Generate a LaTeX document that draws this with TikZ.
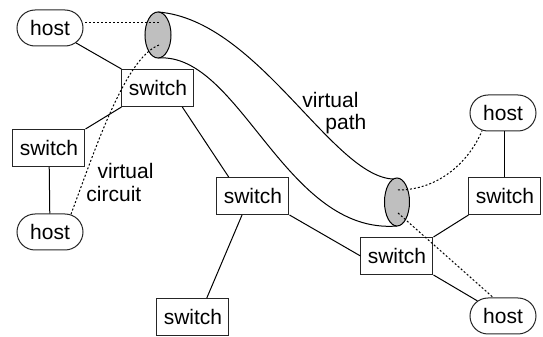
\documentclass[tikz,border=0pt]{standalone}
\usepackage{fontspec}
\setmainfont{Liberation Sans}
\usetikzlibrary{shapes.misc}
\begin{document}
\begin{tikzpicture}[x=0.5pt,y=-0.5pt,line width=0.5pt,
  font=\fontsize{10.5}{12.6}\selectfont,
  switch/.style={draw=black!85,rectangle,minimum width=36pt,minimum height=18.5pt,inner sep=1pt},
  host/.style={draw=black!85,rounded rectangle,minimum width=35pt,minimum height=18pt,inner sep=1pt},
  vc/.style={dash pattern=on 1pt off 1pt,line width=0.5pt},
  label/.style={inner sep=0pt,anchor=west}]
  \useasboundingbox (0,0) rectangle (543,337);
  \node (hostTL) at (50,28) [host] {host};
  \node (hostBL) at (50,232) [host] {host};
  \node (hostTR) at (503,113) [host] {host};
  \node (hostBR) at (503,316) [host] {host};
  \node (sw1) at (158,88) [switch] {switch};
  \node (sw2) at (49,148) [switch] {switch};
  \node (sw3) at (253,196) [switch] {switch};
  \node (sw4) at (193,317) [switch] {switch};
  \node (sw5) at (397,256) [switch] {switch};
  \node (sw6) at (505,196) [switch] {switch};
  \draw (hostTL) -- (sw1.north west);
  \draw (sw1.south west) -- (sw2.north east);
  \draw (sw2) -- (hostBL);
  \draw (sw1.-38) -- (sw3.142);
  \draw (sw3.240) -- (sw4.54);
  \draw (sw3.south east) -- (sw5.west);
  \draw (sw5.north east) -- (sw6.south west);
  \draw (sw5.south east) -- (hostBR);
  \draw (sw6.north) -- (sw6.north |- hostTR.south);
  \draw (158,12) .. controls (260,20) and (335,183) .. (397,179);
  \draw (158,58) .. controls (240,52) and (285,235) .. (397,226);
  \draw [fill=black!25] (158,35) ellipse [x radius=13,y radius=23];
  \draw [fill=black!25] (397,202) ellipse [x radius=12.5,y radius=24];
  \coordinate (vcin) at (159,23);
  \coordinate (vcturn) at (159,45);
  \coordinate (vcout) at (398,190);
  \coordinate (vcend) at (398,213);
  \draw [vc] (vcin) -- (vcin -| hostTL.east);
  \draw [vc] (vcturn) .. controls (125,58) and (95,150) .. (hostBL.40);
  \draw [vc] (vcout) .. controls (440,190) and (470,160) .. (hostTR.220);
  \draw [vc] (vcend) -- (hostBR.118);
  \node (vp1) at (302,100) [label] {virtual};
  \node (vp2) at (325,124) [label] {path};
  \node (vc1) at (97,171) [label] {virtual};
  \node (vc2) at (86,194) [label] {circuit};
\end{tikzpicture}
\end{document}
